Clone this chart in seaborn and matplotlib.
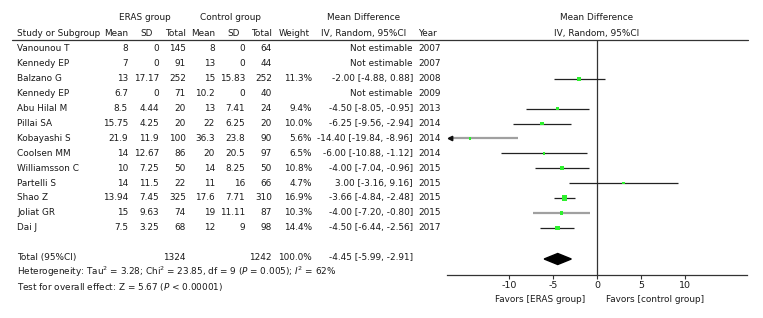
import numpy as np
import pandas as pd
import matplotlib
matplotlib.use("Agg")
import matplotlib.pyplot as plt
import seaborn as sns

# ---------------- data ----------------
studies = ["Vanounou T", "Kennedy EP", "Balzano G", "Kennedy EP", "Abu Hilal M", "Pillai SA",
           "Kobayashi S", "Coolsen MM", "Williamsson C", "Partelli S", "Shao Z", "Joliat GR", "Dai J"]
eras_mean = [8, 7, 13, 6.7, 8.5, 15.75, 21.9, 14, 10, 14, 13.94, 15, 7.5]
eras_sd = [0, 0, 17.17, 0, 4.44, 4.25, 11.9, 12.67, 7.25, 11.5, 7.45, 9.63, 3.25]
eras_n = [145, 91, 252, 71, 20, 20, 100, 86, 50, 22, 325, 74, 68]
ctrl_mean = [8, 13, 15, 10.2, 13, 22, 36.3, 20, 14, 11, 17.6, 19, 12]
ctrl_sd = [0, 0, 15.83, 0, 7.41, 6.25, 23.8, 20.5, 8.25, 16, 7.71, 11.11, 9]
ctrl_n = [64, 44, 252, 40, 24, 20, 90, 97, 50, 66, 310, 87, 98]
weight = [np.nan, np.nan, 11.3, np.nan, 9.4, 10.0, 5.6, 6.5, 10.8, 4.7, 16.9, 10.3, 14.4]
md = [np.nan, np.nan, -2.00, np.nan, -4.50, -6.25, -14.40, -6.00, -4.00, 3.00, -3.66, -4.00, -4.50]
ci_lo = [np.nan, np.nan, -4.88, np.nan, -8.05, -9.56, -19.84, -10.88, -7.04, -3.16, -4.84, -7.20, -6.44]
ci_hi = [np.nan, np.nan, 0.88, np.nan, -0.95, -2.94, -8.96, -1.12, -0.96, 9.16, -2.48, -0.80, -2.56]
years = [2007, 2007, 2008, 2009, 2013, 2014, 2014, 2014, 2015, 2015, 2015, 2015, 2017]
line_gray = [False, False, False, False, False, False, True, False, False, False, False, True, False]

total_eras_n = 1324
total_ctrl_n = 1242
total_md, total_lo, total_hi = -4.45, -5.99, -2.91
x_ticks = [-10, -5, 0, 5, 10]
x_lim = (-17, 17)

# ---------------- figure ----------------
sns.set_theme(style="white")
plt.rcParams["font.family"] = ["DejaVu Sans"]
FS = 6.4
TXT = "#1a1a1a"

W, H = 763, 318
fig = plt.figure(figsize=(W / 100, H / 100), dpi=100)

row0_px, step_px = 49, 14.9
def px2row(p):
    return (p - row0_px) / step_px

# text axes: x in pixels, y in row units
ax_t = fig.add_axes([0, 0, 1, 1])
ax_t.set_xlim(0, W)
ax_t.set_ylim(px2row(H), px2row(0))
ax_t.axis("off")

# forest axes
left_px, right_px, top_px, bot_px = 447, 747, 40, 275
ax_f = fig.add_axes([left_px / W, (H - bot_px) / H, (right_px - left_px) / W, (bot_px - top_px) / H])
ax_f.set_xlim(*x_lim)
ax_f.set_ylim(px2row(bot_px), px2row(top_px))
ax_f.patch.set_alpha(0)
for s in ["top", "right", "left"]:
    ax_f.spines[s].set_visible(False)
ax_f.spines["bottom"].set_color("#333333")
ax_f.spines["bottom"].set_linewidth(0.9)
ax_f.set_yticks([])
ax_f.set_xticks(x_ticks)
ax_f.set_xticklabels([str(t) for t in x_ticks], fontsize=FS + 0.4, color=TXT)
ax_f.tick_params(axis="x", direction="out", length=3, width=0.8, color="#333333", pad=1.5, bottom=True)

def fmt(v):
    return f"{v:g}"

def txt(x, r, s, ha="right", **kw):
    ax_t.text(x, r, s, ha=ha, va="center", fontsize=FS, color=TXT, **kw)

# headers
hr1, hr2 = px2row(18), px2row(34)
txt(145, hr1, "ERAS group", ha="center")
txt(231, hr1, "Control group", ha="center")
txt(364, hr1, "Mean Difference", ha="center")
txt(597, hr1, "Mean Difference", ha="center")
txt(17, hr2, "Study or Subgroup", ha="left")
txt(128, hr2, "Mean")
txt(146.5, hr2, "SD", ha="center")
txt(186, hr2, "Total")
txt(215, hr2, "Mean")
txt(233.5, hr2, "SD", ha="center")
txt(272, hr2, "Total")
txt(310, hr2, "Weight")
txt(364, hr2, "IV, Random, 95%CI", ha="center")
txt(418, hr2, "Year", ha="left")
txt(597, hr2, "IV, Random, 95%CI", ha="center")
ax_t.plot([12, 748], [px2row(40), px2row(40)], color="#333333", lw=0.9)

# study rows
for i, name in enumerate(studies):
    txt(17, i, name, ha="left")
    txt(128, i, fmt(eras_mean[i]))
    txt(159, i, fmt(eras_sd[i]))
    txt(186, i, str(eras_n[i]))
    txt(215, i, fmt(ctrl_mean[i]))
    txt(245, i, fmt(ctrl_sd[i]))
    txt(272, i, str(ctrl_n[i]))
    if np.isnan(md[i]):
        txt(413, i, "Not estimable")
    else:
        txt(312, i, f"{weight[i]:.1f}%")
        txt(413, i, f"{md[i]:.2f} [{ci_lo[i]:.2f}, {ci_hi[i]:.2f}]")
    txt(418, i, str(years[i]), ha="left")

# totals
tr = len(studies) + 1
txt(17, tr, "Total (95%CI)", ha="left")
txt(186, tr, str(total_eras_n))
txt(272, tr, str(total_ctrl_n))
txt(312, tr, "100.0%")
txt(413, tr, f"{total_md:.2f} [{total_lo:.2f}, {total_hi:.2f}]")
txt(17, px2row(272), r"Heterogeneity: Tau$^2$ = 3.28; Chi$^2$ = 23.85, df = 9 ($P$ = 0.005); $I^2$ = 62%", ha="left")
txt(17, px2row(287), r"Test for overall effect: Z = 5.67 ($P$ < 0.00001)", ha="left")
txt(585, px2row(300), "Favors [ERAS group]")
txt(606, px2row(300), "Favors [control group]", ha="left")

# forest marks
df = pd.DataFrame({"row": np.arange(len(studies)), "md": md, "lo": ci_lo, "hi": ci_hi,
                   "weight": weight, "gray": line_gray}).dropna()
ax_f.axvline(0, color="#333333", lw=0.9, zorder=1)
for _, r in df.iterrows():
    c = "#a0a0a0" if r["gray"] else "#222222"
    lw = 1.6 if r["gray"] else 0.9
    lo = max(r["lo"], x_lim[0] + 0.2)
    hi = min(r["hi"], x_lim[1])
    ax_f.hlines(r["row"], lo, hi, color=c, lw=lw, zorder=2)
    if r["lo"] < x_lim[0]:
        ax_f.plot([x_lim[0] + 0.35], [r["row"]], marker="<", color="#111111", ms=3.2, zorder=3, clip_on=False)
size_map = {w: ((1.0 + 0.25 * w) * 0.72) ** 2 for w in df["weight"]}
sns.scatterplot(data=df, x="md", y="row", size="weight", sizes=size_map, marker="s",
                color="#2ef02e", edgecolor="none", linewidth=0, legend=False, ax=ax_f, zorder=4)
ax_f.set_xlabel("")
ax_f.set_ylabel("")
ax_f.set_ylim(px2row(bot_px), px2row(top_px))

# diamond
dr = px2row(259)
hh = 0.37
ax_f.fill([total_lo, total_md, total_hi, total_md], [dr, dr - hh, dr, dr + hh], color="black", zorder=4)

fig.savefig("out.png", dpi=100)
